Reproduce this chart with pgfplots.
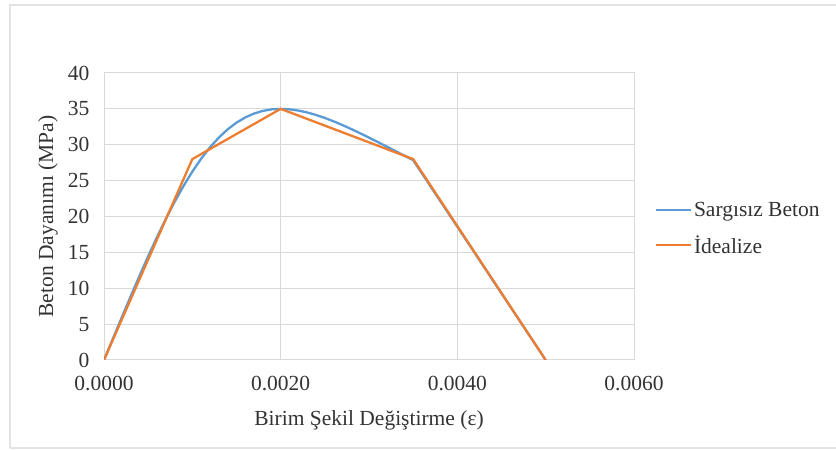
\documentclass[border=0pt]{standalone}
\usepackage{fontspec}
\setmainfont{Liberation Serif}
\usepackage{pgfplots}
\pgfplotsset{compat=1.18}
\definecolor{exblue}{HTML}{5B9BD5}
\definecolor{exorange}{HTML}{ED7D31}
\definecolor{gridc}{HTML}{D9D9D9}
\begin{document}
\begin{tikzpicture}[x=1pt,y=1pt]
\useasboundingbox (0,0) rectangle (836,450);
\draw[gray!22, line width=1.2pt] (10,2) -- (10,445) -- (850,445);
\draw[gray!22, line width=1.2pt] (10,2) -- (850,2);
\begin{axis}[
  at={(104pt,90pt)}, anchor=south west,
  width=530pt, height=287pt, scale only axis,
  xmin=0, xmax=0.006, ymin=0, ymax=40,
  xtick={0,0.002,0.004,0.006},
  ytick={0,5,10,15,20,25,30,35,40},
  scaled x ticks=false,
  xticklabel style={/pgf/number format/fixed, /pgf/number format/fixed zerofill, /pgf/number format/precision=4, /pgf/number format/assume math mode=true, yshift=-13pt},
  yticklabel style={/pgf/number format/assume math mode=true, xshift=-11pt},
  tick label style={font=\fontsize{21.5}{24}\selectfont, text=black!80},
  label style={font=\fontsize{21.5}{24}\selectfont, text=black!80},
  grid=major, grid style={gridc, line width=1pt},
  axis line style={gridc, line width=1pt},
  major tick length=0pt,
  xlabel={Birim Şekil Değiştirme (ε)},
  ylabel={Beton Dayanımı (MPa)},
  xlabel style={at={(axis description cs:0.5,-0.209)}, anchor=center},
  ylabel style={at={(axis description cs:-0.1057,0.5)}, anchor=center, rotate=0},
  legend style={at={(1,0.5)}, anchor=west, xshift=21pt, yshift=-12pt, draw=none, fill=none,
    font=\fontsize{21.5}{24}\selectfont, text=black!80, row sep=14pt, inner sep=0pt,
    nodes={inner sep=2pt}},
  legend cell align=left,
  legend image code/.code={\draw[#1, line width=1.8pt] (0pt,0pt) -- (35pt,0pt);},
]
\addplot[exblue, line width=2.3pt, line join=round] coordinates {
(0,0) (0.0001,2.957) (0.0002,5.901) (0.0003,8.816) (0.0004,11.675) (0.0005,14.455)
(0.0006,17.128) (0.0007,19.668) (0.0008,22.049) (0.0009,24.253) (0.0010,26.259)
(0.0011,28.057) (0.0012,29.640) (0.0013,31.001) (0.0014,32.146) (0.0015,33.081)
(0.0016,33.813) (0.0017,34.356) (0.0018,34.725) (0.0019,34.934) (0.0020,35.000)
(0.0021,34.939) (0.0022,34.768) (0.0023,34.500) (0.0024,34.151) (0.0025,33.734)
(0.0026,33.259) (0.0027,32.740) (0.0028,32.184) (0.0029,31.600) (0.0030,30.995)
(0.0031,30.376) (0.0032,29.747) (0.0033,29.114) (0.0034,28.481) (0.0035,27.850)
(0.0050,0)
};
\addlegendentry{Sargısız Beton}
\addplot[exorange, line width=2.3pt, line join=round] coordinates {
(0,0) (0.0010,28) (0.0020,35) (0.0035,28) (0.0050,0)
};
\addlegendentry{İdealize}
\end{axis}
\end{tikzpicture}
\end{document}
